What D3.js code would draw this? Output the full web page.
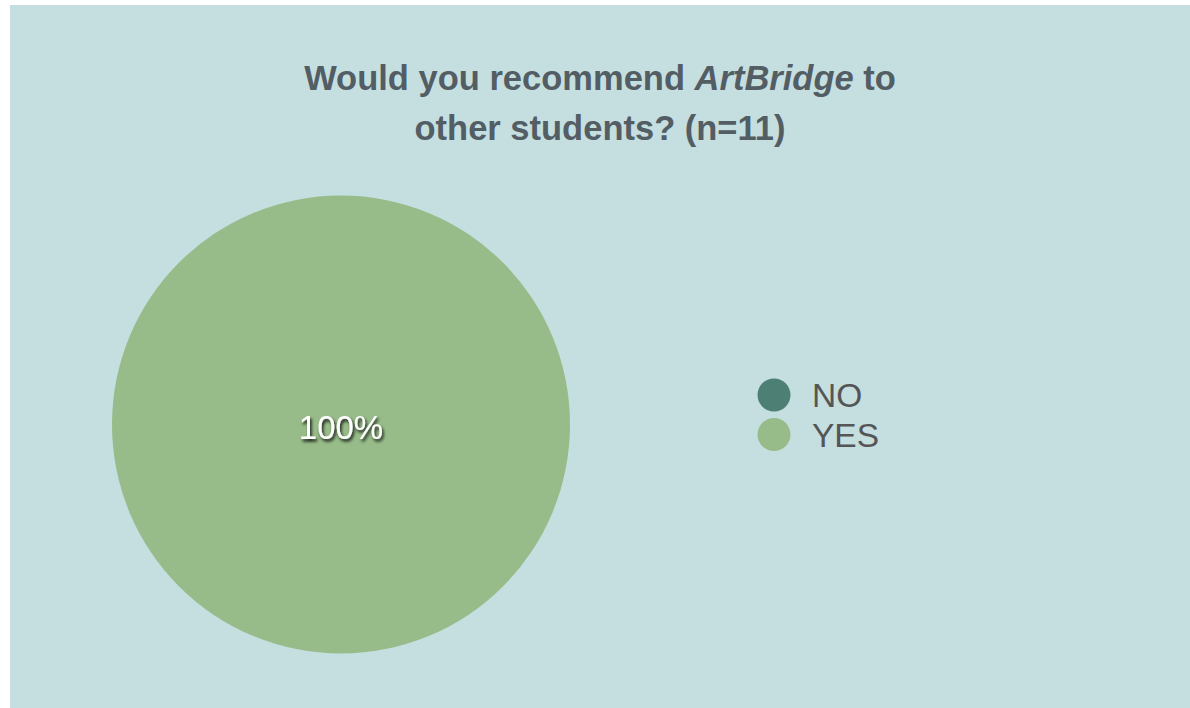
<!DOCTYPE html>
<html>
<head>
<meta charset="utf-8">
<script src="https://cdn.jsdelivr.net/npm/d3@7"></script>
<style>
  html, body { margin: 0; padding: 0; background: #ffffff; }
  svg { display: block; }
</style>
</head>
<body>
<svg id="chart" width="1190" height="708"></svg>
<script>
// Survey responses
const categories = ["NO", "YES"];
const counts = [0, 11];
const colors = ["#4d7f75", "#97bc89"];
const titleLines = [
  [{ t: "Would you recommend ", i: false }, { t: "ArtBridge", i: true }, { t: " to", i: false }],
  [{ t: "other students? (n=11)", i: false }]
];

const W = 1190, H = 708;
const svg = d3.select("#chart");

// panel background
svg.append("rect")
  .attr("x", 10).attr("y", 5)
  .attr("width", W - 10).attr("height", H - 5)
  .attr("fill", "#c5dfe1");

// title
const title = svg.append("text")
  .attr("text-anchor", "middle")
  .attr("font-family", "Liberation Sans, Arial, Helvetica, sans-serif")
  .attr("font-weight", "bold")
  .attr("font-size", 34.5)
  .attr("fill", "#535d64");
titleLines.forEach((line, li) => {
  const t = title.append("tspan").attr("x", 600).attr("y", 90 + li * 50);
  line.forEach((seg, si) => {
    const s = si === 0 ? t : title.append("tspan");
    s.text(seg.t).attr("font-style", seg.i ? "italic" : "normal");
  });
});

// pie
const cx = 341, cy = 424.5, r = 229;
const data = categories.map((c, i) => ({ cat: c, value: counts[i], color: colors[i] }));
const total = d3.sum(counts);
const pie = d3.pie().value(d => d.value).sort(null);
const arc = d3.arc().innerRadius(0).outerRadius(r);

const defs = svg.append("defs");
const f = defs.append("filter").attr("id", "shadow")
  .attr("x", "-20%").attr("y", "-30%").attr("width", "140%").attr("height", "160%");
f.append("feDropShadow").attr("dx", 1.5).attr("dy", 2.5).attr("stdDeviation", 1.5)
  .attr("flood-color", "#000").attr("flood-opacity", 0.9);

const g = svg.append("g").attr("transform", `translate(${cx},${cy})`);
const arcs = pie(data).filter(d => d.data.value > 0);
g.selectAll("path").data(arcs).join("path")
  .attr("d", arc)
  .attr("fill", d => d.data.color);

g.selectAll("text").data(arcs).join("text")
  .attr("transform", d => {
    const full = d.endAngle - d.startAngle >= 2 * Math.PI - 1e-6;
    const p = full ? [0, 0] : d3.arc().innerRadius(r * 0.6).outerRadius(r * 0.6).centroid(d);
    return `translate(${p[0]},${p[1]})`;
  })
  .attr("text-anchor", "middle")
  .attr("dy", 14)
  .attr("font-family", "Liberation Sans, Arial, Helvetica, sans-serif")
  .attr("font-size", 33)
  .attr("fill", "#ffffff")
  .attr("filter", "url(#shadow)")
  .text(d => d3.format(".0%")(d.data.value / total));

// legend
const legend = svg.append("g").attr("transform", "translate(774,395)");
const item = legend.selectAll("g").data(data).join("g")
  .attr("transform", (d, i) => `translate(0,${i * 39.5})`);
item.append("circle").attr("r", 16.5).attr("fill", d => d.color);
item.append("text")
  .attr("x", 38).attr("y", 12)
  .attr("font-family", "Liberation Sans, Arial, Helvetica, sans-serif")
  .attr("font-size", 33.5)
  .attr("fill", "#555555")
  .text(d => d.cat);
</script>
</body>
</html>
